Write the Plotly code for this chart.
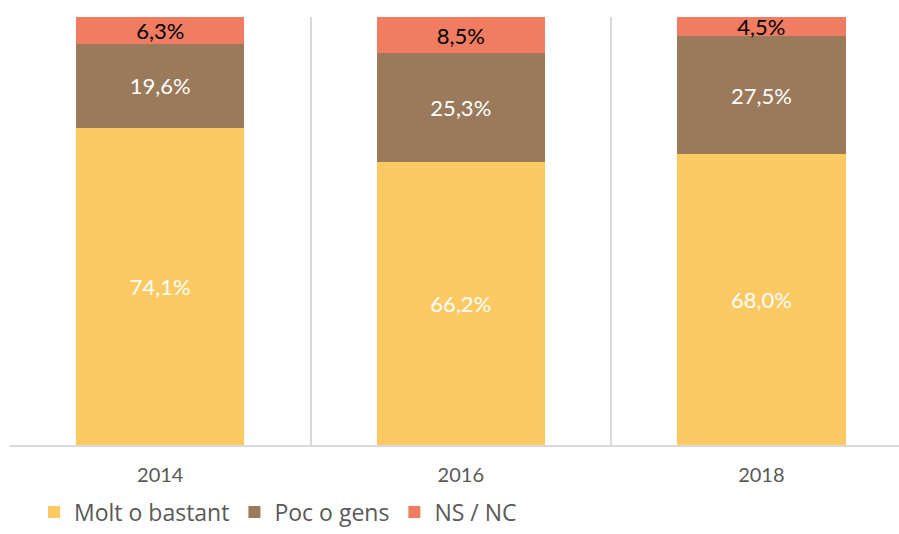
import plotly.graph_objects as go

years = ["2014", "2016", "2018"]
molt = [74.1, 66.2, 68.0]
poc = [19.6, 25.3, 27.5]
nsnc = [6.3, 8.5, 4.5]

series = [
    ("Molt o bastant", molt, "#FCC962", "white"),
    ("Poc o gens", poc, "#9A7A5A", "white"),
    ("NS / NC", nsnc, "#F07C61", "black"),
]

fig = go.Figure()
for name, vals, color, tcolor in series:
    fig.add_trace(go.Bar(
        x=years, y=vals, name=name,
        marker=dict(color=color, line=dict(width=0)),
        width=0.56,
        texttemplate="%{y:.1f}%",
        textposition="inside",
        insidetextanchor="middle",
        textfont=dict(color=tcolor, size=22, family="Lato"),
        hoverinfo="skip",
    ))

fig.update_layout(
    barmode="stack",
    width=899, height=534,
    margin=dict(l=10, r=0, t=17, b=89, autoexpand=False),
    plot_bgcolor="white", paper_bgcolor="white",
    separators=",.",
    uniformtext=dict(minsize=22, mode="show"),
    font=dict(family="Lato", color="#595959"),
    showlegend=True,
    legend=dict(
        orientation="h", traceorder="normal",
        x=0.027, y=-0.207, xanchor="left", yanchor="bottom",
        font=dict(size=23, color="#595959", family="Open Sans"),
        itemwidth=30, tracegroupgap=0,
    ),
    xaxis=dict(
        type="category", range=[-0.5, 2.458],
        tickson="boundaries", showgrid=True, gridcolor="#D9D9D9", gridwidth=2,
        showline=True, linecolor="#D9D9D9", linewidth=2,
        ticks="", ticklabelstandoff=11,
        tickfont=dict(size=20, color="#595959", family="Lato"),
        zeroline=False,
    ),
    yaxis=dict(
        range=[0, 100], showgrid=False, showticklabels=False, zeroline=False,
        showline=False, ticks="",
    ),
)

fig.write_html(
    "out.html",
    config={"displayModeBar": False},
    post_script="document.body.style.margin='0';document.body.style.overflow='hidden';",
)
